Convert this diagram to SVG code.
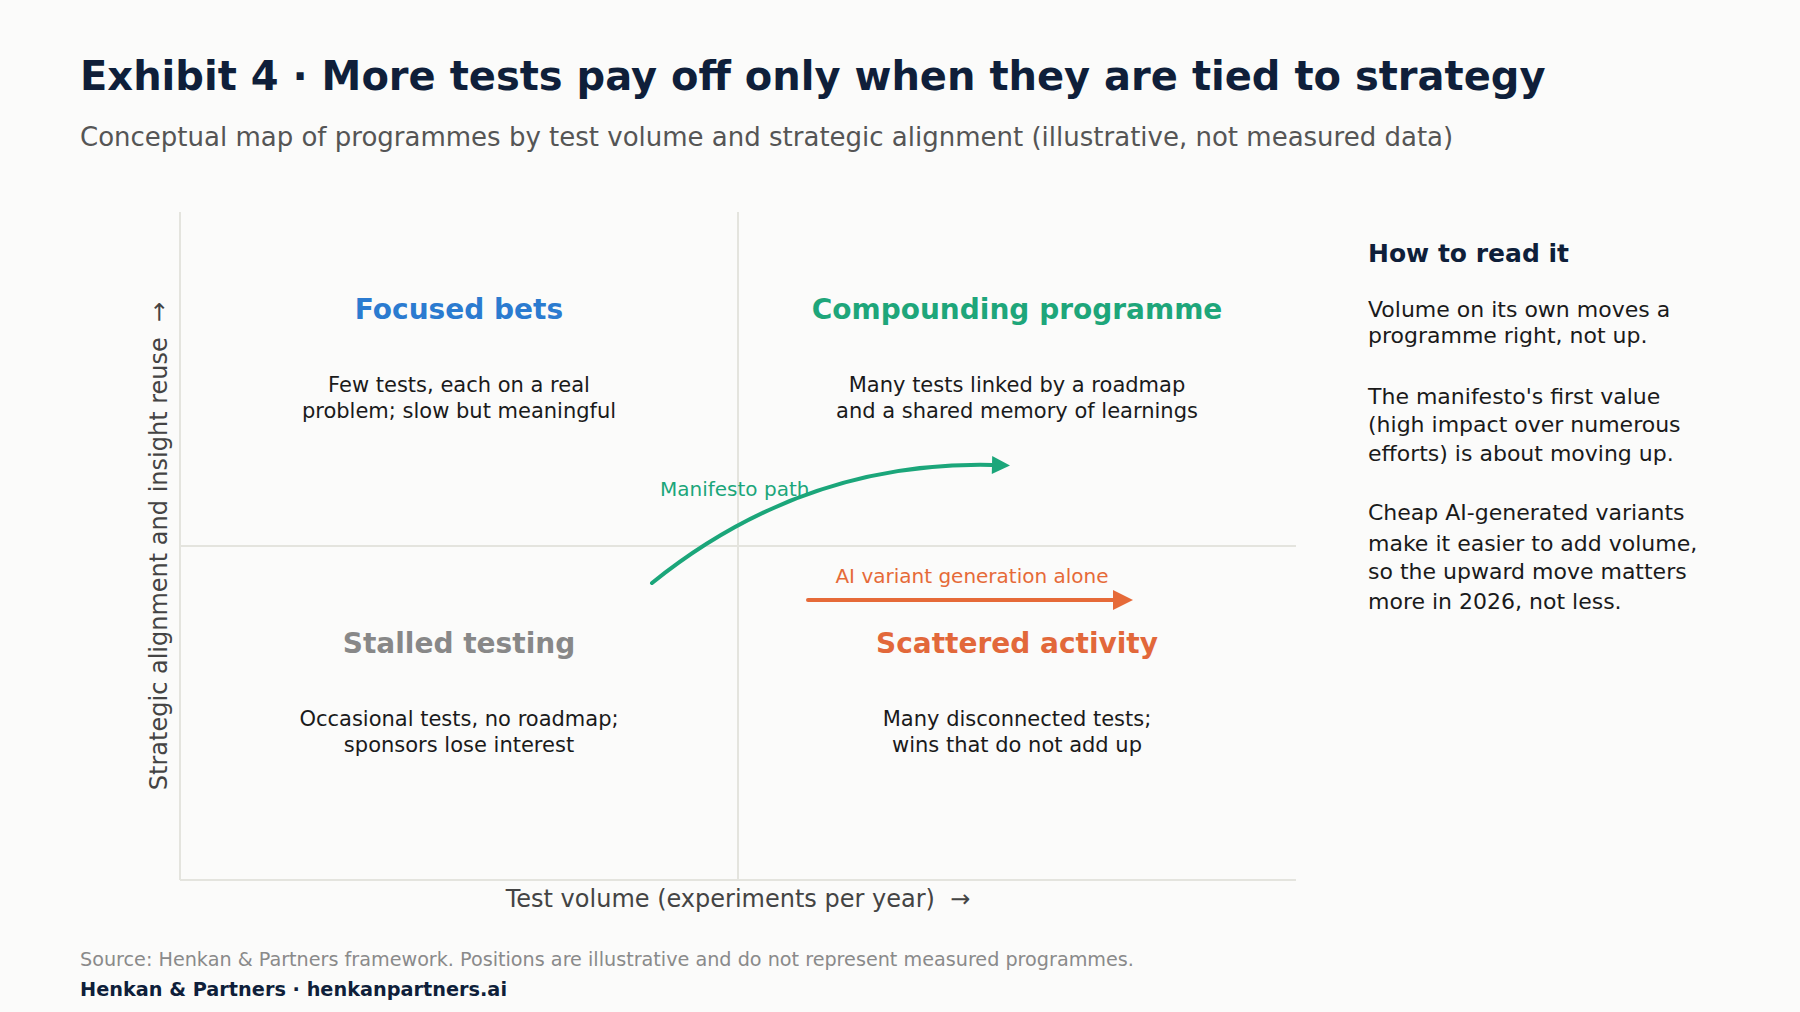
<svg xmlns="http://www.w3.org/2000/svg" width="1800" height="1012" viewBox="0 0 1800 1012">
<style>
text{font-family:"DejaVu Sans","Liberation Sans",sans-serif}
.title{font-size:40px;font-weight:bold;fill:#0f1f3a}
.sub{font-size:26px;fill:#555}
.qt{font-size:28px;font-weight:bold;text-anchor:middle}
.qd{font-size:21px;fill:#1a1a1a;text-anchor:middle}
.ax{font-size:24px;fill:#444}
.grid{stroke:#e4e4de;stroke-width:2;fill:none}
.side{font-size:22px;fill:#1a1a1a}
</style>
<defs>
<marker id="ahg" viewBox="0 0 10 10" refX="0" refY="5" markerWidth="20" markerHeight="18" markerUnits="userSpaceOnUse" orient="auto"><path d="M0,0 L10,5 L0,10 z" fill="#1ba67a"/></marker>
<marker id="aho" viewBox="0 0 10 10" refX="0" refY="5" markerWidth="20" markerHeight="20" markerUnits="userSpaceOnUse" orient="auto"><path d="M0,0 L10,5 L0,10 z" fill="#e66a38"/></marker>
</defs>
<rect width="1800" height="1012" fill="#fbfbfa"/>
<text class="title" x="80" y="90">Exhibit 4 · More tests pay off only when they are tied to strategy</text>
<text class="sub" x="80" y="146">Conceptual map of programmes by test volume and strategic alignment (illustrative, not measured data)</text>
<g id="axes">
<line class="grid" x1="180" y1="212" x2="180" y2="880"/>
<line class="grid" x1="180" y1="880" x2="1296" y2="880"/>
<line class="grid" x1="738" y1="212" x2="738" y2="880"/>
<line class="grid" x1="180" y1="546" x2="1296" y2="546"/>
<text class="ax" x="738" y="907" text-anchor="middle">Test volume (experiments per year) &#160;→</text>
<text class="ax" transform="translate(167,546) rotate(-90)" text-anchor="middle">Strategic alignment and insight reuse &#160;→</text>
</g>
<g id="q-focused">
<text class="qt" x="459" y="319" fill="#2b7bd0">Focused bets</text>
<text class="qd" x="459" y="392">Few tests, each on a real</text>
<text class="qd" x="459" y="418">problem; slow but meaningful</text>
</g>
<g id="q-compounding">
<text class="qt" x="1017" y="319" fill="#1ea67a">Compounding programme</text>
<text class="qd" x="1017" y="392">Many tests linked by a roadmap</text>
<text class="qd" x="1017" y="418">and a shared memory of learnings</text>
</g>
<g id="q-stalled">
<text class="qt" x="459" y="653" fill="#888888">Stalled testing</text>
<text class="qd" x="459" y="726">Occasional tests, no roadmap;</text>
<text class="qd" x="459" y="752">sponsors lose interest</text>
</g>
<g id="q-scattered">
<text class="qt" x="1017" y="653" fill="#e2683a">Scattered activity</text>
<text class="qd" x="1017" y="726">Many disconnected tests;</text>
<text class="qd" x="1017" y="752">wins that do not add up</text>
</g>
<g id="connectors">
<path d="M652,583 C740,512 850,462 992,465" fill="none" stroke="#1ba67a" stroke-width="4" stroke-linecap="round" marker-end="url(#ahg)"/>
<text x="660" y="496" font-size="20" fill="#1ba67a">Manifesto path</text>
<line x1="808" y1="600" x2="1113" y2="600" stroke="#e66a38" stroke-width="4" stroke-linecap="round" marker-end="url(#aho)"/>
<text x="972" y="583" font-size="20" fill="#e66a38" text-anchor="middle">AI variant generation alone</text>
</g>
<g id="side-note">
<text x="1368" y="262" font-size="25" font-weight="bold" fill="#0f1f3a">How to read it</text>
<text class="side" x="1368" y="317">Volume on its own moves a</text>
<text class="side" x="1368" y="343">programme right, not up.</text>
<text class="side" x="1368" y="404">The manifesto's first value</text>
<text class="side" x="1368" y="432">(high impact over numerous</text>
<text class="side" x="1368" y="461">efforts) is about moving up.</text>
<text class="side" x="1368" y="520">Cheap AI-generated variants</text>
<text class="side" x="1368" y="551">make it easier to add volume,</text>
<text class="side" x="1368" y="579">so the upward move matters</text>
<text class="side" x="1368" y="609">more in 2026, not less.</text>
</g>
<text x="80" y="966" font-size="19.2" fill="#8a8a8a">Source: Henkan &amp; Partners framework. Positions are illustrative and do not represent measured programmes.</text>
<text x="80" y="996" font-size="19.3" font-weight="bold" fill="#0f1f3a">Henkan &amp; Partners · henkanpartners.ai</text>
</svg>
